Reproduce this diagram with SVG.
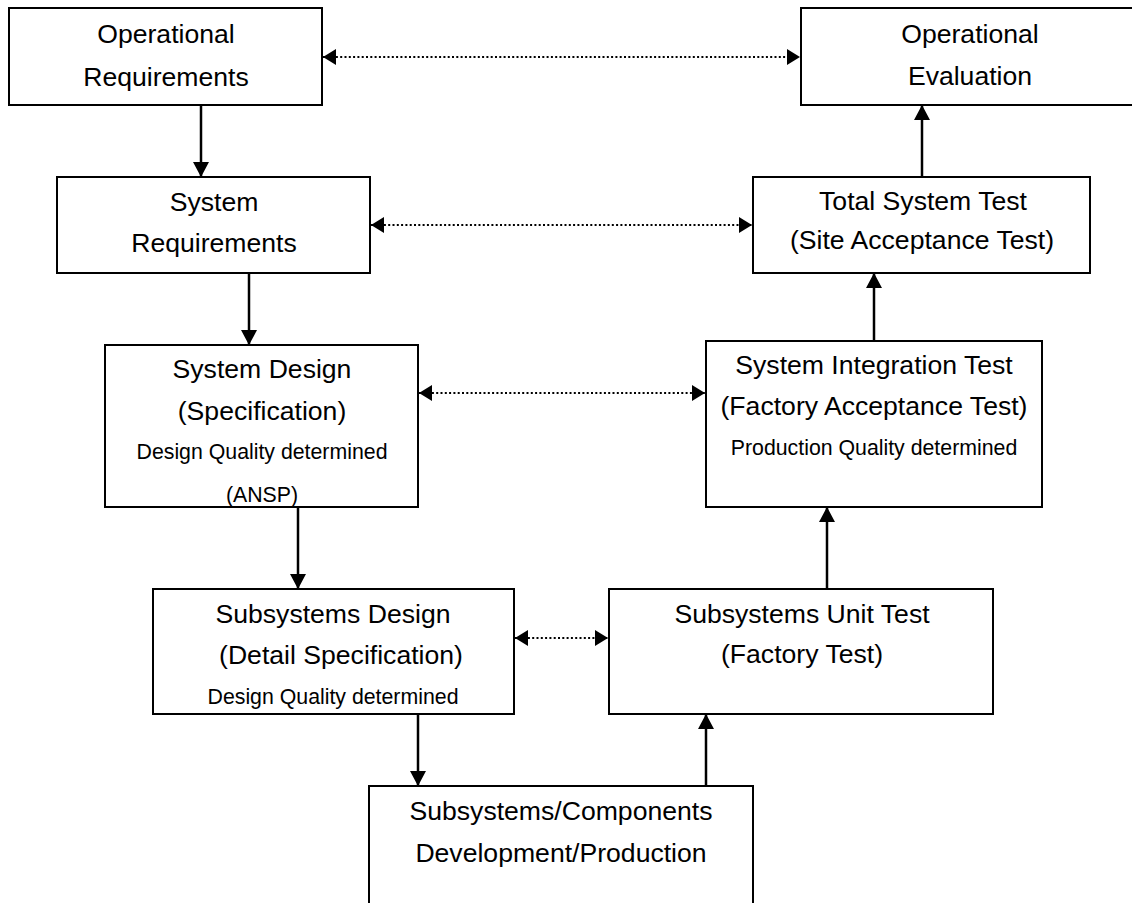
<svg xmlns="http://www.w3.org/2000/svg" width="1132" height="903" viewBox="0 0 1132 903">
  <style>
    .box { fill: #ffffff; stroke: #000000; stroke-width: 2; }
    .t { font-family: "Liberation Sans", Arial, sans-serif; font-size: 26.6px; fill: #000000; text-anchor: middle; }
    .s { font-family: "Liberation Sans", Arial, sans-serif; font-size: 21.3px; fill: #000000; text-anchor: middle; }
    .flow { stroke: #000000; stroke-width: 2.5; fill: none; marker-end: url(#solid); }
    .trace { stroke: #000000; stroke-width: 2.2; fill: none; stroke-dasharray: 2 2.3; marker-start: url(#dot); marker-end: url(#dot); }
  </style>
  <defs>
    <marker id="solid" markerUnits="userSpaceOnUse" markerWidth="16" markerHeight="16" refX="15" refY="8" orient="auto">
      <path d="M0,0 L15,8 L0,16 Z" fill="#000000"/>
    </marker>
    <marker id="dot" markerUnits="userSpaceOnUse" markerWidth="14" markerHeight="16" refX="13" refY="8" orient="auto-start-reverse">
      <path d="M0,0 L13,8 L0,16 Z" fill="#000000"/>
    </marker>
  </defs>

  <rect width="1132" height="903" fill="#ffffff"/>

  <g id="connectors">
    <line class="flow" x1="201" y1="105" x2="201" y2="177"/>
    <line class="flow" x1="249" y1="273" x2="249" y2="345"/>
    <line class="flow" x1="298" y1="507" x2="298" y2="589"/>
    <line class="flow" x1="418" y1="714" x2="418" y2="786"/>
    <line class="flow" x1="706" y1="786" x2="706" y2="714"/>
    <line class="flow" x1="827" y1="589" x2="827" y2="507"/>
    <line class="flow" x1="874" y1="341" x2="874" y2="273"/>
    <line class="flow" x1="922" y1="177" x2="922" y2="105"/>
    <line class="trace" x1="323" y1="57" x2="800" y2="57"/>
    <line class="trace" x1="371" y1="225" x2="752" y2="225"/>
    <line class="trace" x1="419" y1="393" x2="705" y2="393"/>
    <line class="trace" x1="515" y1="638" x2="608" y2="638"/>
  </g>

  <g id="operational-requirements">
    <rect class="box" x="9" y="8" width="313" height="97"/>
    <text class="t" x="166" y="43">Operational</text>
    <text class="t" x="166" y="86">Requirements</text>
  </g>

  <g id="operational-evaluation">
    <rect class="box" x="801" y="8" width="340" height="97"/>
    <text class="t" x="970" y="43">Operational</text>
    <text class="t" x="970" y="85">Evaluation</text>
  </g>

  <g id="system-requirements">
    <rect class="box" x="57" y="177" width="313" height="96"/>
    <text class="t" x="214" y="211">System</text>
    <text class="t" x="214" y="252">Requirements</text>
  </g>

  <g id="total-system-test">
    <rect class="box" x="753" y="177" width="337" height="96"/>
    <text class="t" x="923" y="210">Total System Test</text>
    <text class="t" x="922" y="249">(Site Acceptance Test)</text>
  </g>

  <g id="system-design">
    <rect class="box" x="105" y="345" width="313" height="162"/>
    <text class="t" x="262" y="378">System Design</text>
    <text class="t" x="262" y="420">(Specification)</text>
    <text class="s" x="262" y="459">Design Quality determined</text>
    <text class="s" x="262" y="502">(ANSP)</text>
  </g>

  <g id="system-integration-test">
    <rect class="box" x="706" y="341" width="336" height="166"/>
    <text class="t" x="874" y="374">System Integration Test</text>
    <text class="t" x="874" y="415">(Factory Acceptance Test)</text>
    <text class="s" x="874" y="455">Production Quality determined</text>
  </g>

  <g id="subsystems-design">
    <rect class="box" x="153" y="589" width="361" height="125"/>
    <text class="t" x="333" y="623">Subsystems Design</text>
    <text class="t" x="341" y="664">(Detail Specification)</text>
    <text class="s" x="333" y="704">Design Quality determined</text>
  </g>

  <g id="subsystems-unit-test">
    <rect class="box" x="609" y="589" width="384" height="125"/>
    <text class="t" x="802" y="623">Subsystems Unit Test</text>
    <text class="t" x="802" y="663">(Factory Test)</text>
  </g>

  <g id="subsystems-components">
    <rect class="box" x="369" y="786" width="384" height="140"/>
    <text class="t" x="561" y="820">Subsystems/Components</text>
    <text class="t" x="561" y="862">Development/Production</text>
  </g>
</svg>
